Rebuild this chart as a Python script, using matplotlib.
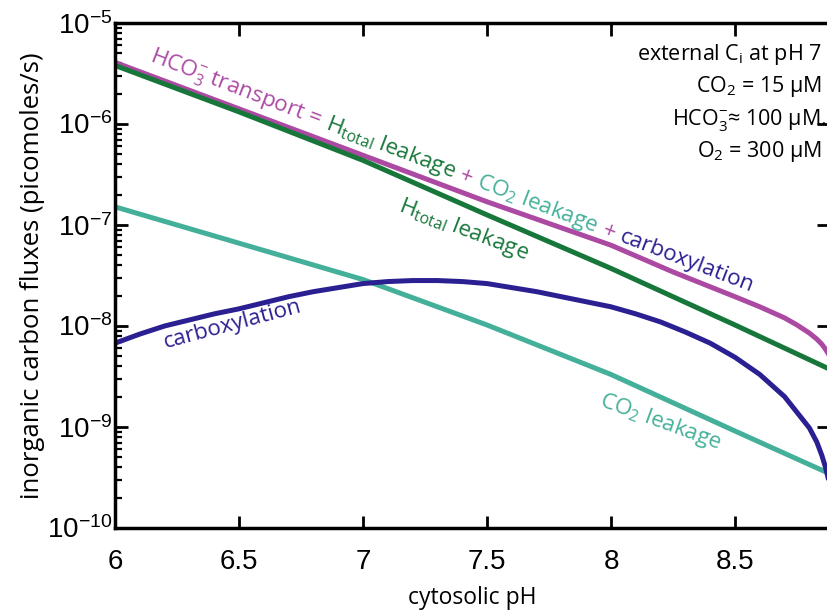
import numpy as np
import matplotlib
matplotlib.use("Agg")
import matplotlib.pyplot as plt
from matplotlib.ticker import FixedLocator, LogLocator, NullFormatter

plt.rcParams["font.family"] = ["Open Sans", "DejaVu Sans"]
plt.rcParams["mathtext.fontset"] = "custom"
plt.rcParams["mathtext.rm"] = "Open Sans"
plt.rcParams["mathtext.it"] = "Open Sans:italic"
plt.rcParams["mathtext.sf"] = "Liberation Sans"

# cytosolic pH and log10 of the fluxes (picomoles/s)
PH_TRANSPORT = [6.0, 6.5, 7.0, 7.5, 8.0, 8.25, 8.5, 8.6, 8.7, 8.75, 8.8,
                8.83, 8.85, 8.865, 8.875]
LOG_TRANSPORT = [-5.39, -5.85, -6.31, -6.77, -7.20, -7.465, -7.71, -7.81,
                 -7.92, -7.99, -8.07, -8.13, -8.18, -8.23, -8.27]

PH_H_LEAK = [6.0, 6.5, 7.0, 7.5, 8.0, 8.5, 8.875]
LOG_H_LEAK = [-5.42, -5.88, -6.36, -6.90, -7.43, -7.99, -8.42]

PH_CO2_LEAK = [6.0, 6.5, 7.0, 7.5, 8.0, 8.5, 8.875]
LOG_CO2_LEAK = [-6.82, -7.18, -7.54, -7.99, -8.48, -9.04, -9.455]

PH_CARBOX = [6.0, 6.1, 6.2, 6.3, 6.4, 6.5, 6.6, 6.7, 6.8, 6.9, 7.0, 7.1, 7.2,
             7.3, 7.4, 7.5, 7.6, 7.7, 7.8, 7.9, 8.0, 8.1, 8.2, 8.3, 8.4, 8.5,
             8.6, 8.7, 8.8, 8.83, 8.85, 8.865, 8.875]
LOG_CARBOX = [-8.17, -8.08, -8.00, -7.94, -7.88, -7.83, -7.77, -7.71, -7.66,
              -7.62, -7.58, -7.56, -7.55, -7.55, -7.56, -7.58, -7.62, -7.66,
              -7.71, -7.76, -7.81, -7.88, -7.96, -8.06, -8.17, -8.31, -8.48,
              -8.70, -9.01, -9.15, -9.28, -9.40, -9.50]

X_TICKS = [6, 6.5, 7, 7.5, 8, 8.5]
X_TICK_LABELS = ["6", "6.5", "7", "7.5", "8", "8.5"]
Y_TICKS = [1e-10, 1e-9, 1e-8, 1e-7, 1e-6, 1e-5]
Y_TICK_LABELS = [r"$\mathsf{10^{-10}}$", r"$\mathsf{10^{-9}}$", r"$\mathsf{10^{-8}}$",
                 r"$\mathsf{10^{-7}}$", r"$\mathsf{10^{-6}}$", r"$\mathsf{10^{-5}}$"]

MAGENTA = "#AC4AA3"
GREEN = "#17773A"
TEAL = "#45B09A"
BLUE = "#2B2092"

W, H = 828, 612

fig = plt.figure(figsize=(W / 100, H / 100), dpi=100)
ax = fig.add_axes([115 / W, 1 - 528 / H, (829 - 115) / W, (528 - 23) / H])

ax.plot(PH_TRANSPORT, 10 ** np.array(LOG_TRANSPORT), color=MAGENTA, lw=3.6)
ax.plot(PH_H_LEAK, 10 ** np.array(LOG_H_LEAK), color=GREEN, lw=3.6)
ax.plot(PH_CO2_LEAK, 10 ** np.array(LOG_CO2_LEAK), color=TEAL, lw=3.6)
ax.plot(PH_CARBOX, 10 ** np.array(LOG_CARBOX), color=BLUE, lw=3.6)

ax.set_yscale("log")
ax.set_ylim(1e-10, 1e-5)
ax.set_xlim(6, 8.879)

ax.xaxis.set_major_locator(FixedLocator(X_TICKS))
ax.set_xticklabels(X_TICK_LABELS, family="Liberation Sans")
ax.yaxis.set_major_locator(FixedLocator(Y_TICKS))
ax.set_yticklabels(Y_TICK_LABELS)
ax.yaxis.set_minor_locator(LogLocator(base=10, subs=np.arange(2, 10), numticks=20))
ax.yaxis.set_minor_formatter(NullFormatter())

for s in ax.spines.values():
    s.set_linewidth(2.5)

ax.tick_params(which="major", direction="in", length=9, width=2,
               top=True, right=True, labelsize=20)
ax.tick_params(axis="x", which="major", pad=15)
ax.tick_params(axis="y", which="major", pad=2)
ax.tick_params(which="minor", direction="in", length=5, width=1.6,
               left=True, right=False)

ax.set_xlabel("cytosolic pH", fontsize=16.5)
ax.xaxis.set_label_coords(0.5, (528 - 586) / 505)
ax.set_ylabel("inorganic carbon fluxes (picomoles/s)", fontsize=18.5)
ax.yaxis.set_label_coords((45 - 115) / 714, 0.5)

renderer = fig.canvas.get_renderer()


def chain_text(x0, y0, angle, pieces, size, gap):
    # place colored pieces one after another along a rotated baseline
    x, y = x0, H - y0
    rad = np.deg2rad(angle)
    for s, c in pieces:
        t = fig.text(x / W, y / H, s, color=c, fontsize=size, ha="left",
                     va="baseline", rotation_mode="anchor")
        w = t.get_window_extent(renderer).width
        t.set_rotation(angle)
        x += (w + gap) * np.cos(rad)
        y += (w + gap) * np.sin(rad)


chain_text(149, 61, -21, [
    (r"HCO$_3^{-}$ transport =", MAGENTA),
    (r"H$_{\mathrm{total}}$ leakage", GREEN),
    ("+", MAGENTA),
    (r"CO$_2$ leakage", TEAL),
    ("+", MAGENTA),
    ("carboxylation", BLUE),
], 16.2, 6)

chain_text(398, 210, -21, [(r"H$_{\mathrm{total}}$ leakage", GREEN)], 16.2, 0)
chain_text(165, 348, 15, [("carboxylation", BLUE)], 16.2, 0)
chain_text(598, 405, -20, [(r"CO$_2$ leakage", TEAL)], 16.2, 0)

notes = [
    (r"external C$_{\mathrm{i}}$ at pH 7", 822, 60),
    (r"CO$_2$ = 15 µM", 822, 92),
    (r"HCO$_3^{-}$≈ 100 µM.", 827, 125),
    (r"O$_2$ = 300 µM", 822, 157),
]
for s, x, y in notes:
    fig.text(x / W, 1 - y / H, s, fontsize=15.5, ha="right", va="baseline")

fig.savefig("out.png", dpi=100)
